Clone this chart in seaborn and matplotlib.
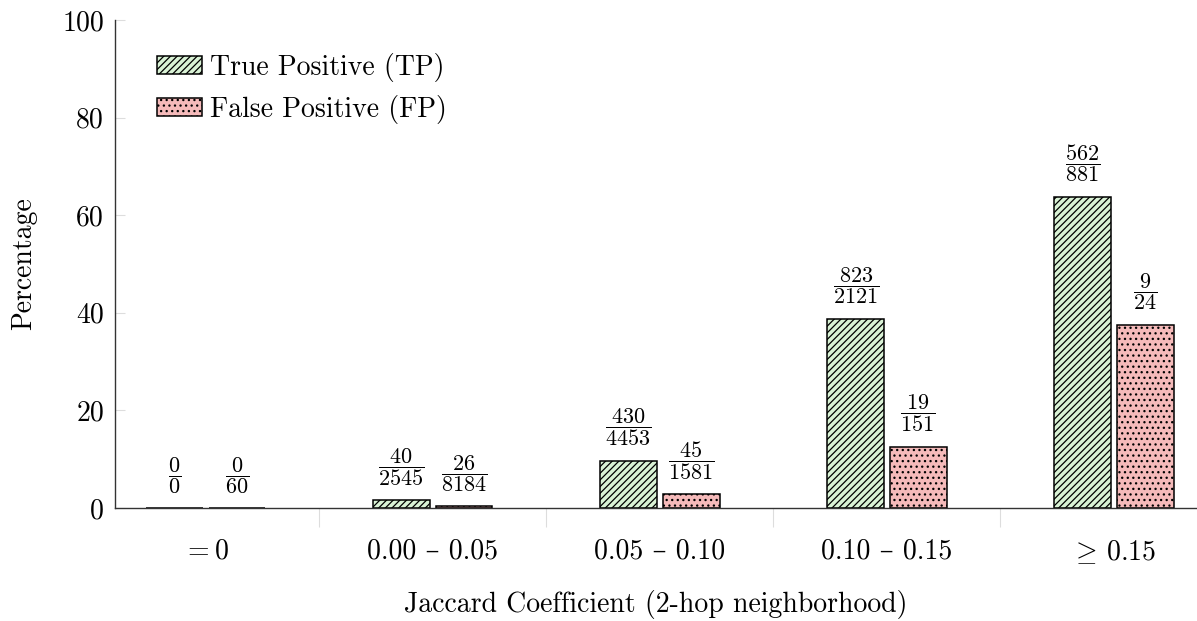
import numpy as np
import pandas as pd
import matplotlib
matplotlib.use("Agg")
import matplotlib.pyplot as plt
import seaborn as sns
from matplotlib.ticker import FixedLocator

# Jaccard coefficient bins (2-hop neighbourhood)
bins = [r"$=0$", "0.00 \u2013 0.05", "0.05 \u2013 0.10", "0.10 \u2013 0.15", r"$\geq\,0.15$"]
series = ["True Positive (TP)", "False Positive (FP)"]

# hits / totals per bin
tp_hits = [0, 40, 430, 823, 562]
tp_total = [0, 2545, 4453, 2121, 881]
fp_hits = [0, 26, 45, 19, 9]
fp_total = [60, 8184, 1581, 151, 24]

y_ticks = [0, 20, 40, 60, 80, 100]


def percent(hits, totals):
    return [100.0 * h / t if t else 0.0 for h, t in zip(hits, totals)]


rows = []
for name, hits, totals in [(series[0], tp_hits, tp_total), (series[1], fp_hits, fp_total)]:
    for b, h, t, p in zip(bins, hits, totals, percent(hits, totals)):
        rows.append({"bin": b, "series": name, "pct": p, "num": h, "den": t})
df = pd.DataFrame(rows)

sns.set_style("white")
plt.rcParams["font.family"] = ["cmr10", "DejaVu Serif"]
plt.rcParams["mathtext.fontset"] = "cm"
plt.rcParams["axes.formatter.use_mathtext"] = True
plt.rcParams["hatch.linewidth"] = 0.9
plt.rcParams["text.color"] = "black"
plt.rcParams["axes.labelcolor"] = "black"

W, H = 1197, 621
fig = plt.figure(figsize=(W / 100, H / 100), dpi=100)
ax = fig.add_axes([115 / W, 113 / H, (W - 115) / W, 488 / H])

sns.barplot(
    data=df, x="bin", y="pct", hue="series",
    order=bins, hue_order=series,
    palette=["#d6f7d0", "#ffb0b0"],
    width=0.55, gap=0.09,
    edgecolor="black", linewidth=1.1,
    legend=False, ax=ax,
)

hatches = ["/////", "..."]
for container, hatch in zip(ax.containers, hatches):
    for bar in container:
        bar.set_hatch(hatch)

# fraction labels above each bar
for container, hits, totals in zip(ax.containers, [tp_hits, fp_hits], [tp_total, fp_total]):
    for bar, h, t in zip(container, hits, totals):
        ax.annotate(
            rf"$\dfrac{{{h}}}{{{t}}}$",
            (bar.get_x() + bar.get_width() / 2, bar.get_height()),
            xytext=(0, 9), textcoords="offset points",
            ha="center", va="bottom", fontsize=16,
        )

ax.set_xlim(-0.4, (W - 206) / 227)
ax.set_ylim(0, 100)
ax.set_yticks(y_ticks)
ax.set_yticklabels([str(v) for v in y_ticks])

for side in ["top", "right"]:
    ax.spines[side].set_visible(False)
for side in ["left", "bottom"]:
    ax.spines[side].set_color("#333333")
    ax.spines[side].set_linewidth(1.0)

ax.tick_params(axis="y", direction="in", length=7, width=0.8, color="#dddddd",
               labelsize=20, labelcolor="black", pad=8, left=True)
ax.tick_params(axis="x", which="major", length=0, labelsize=20, labelcolor="black", pad=22)
ax.xaxis.set_minor_locator(FixedLocator([0.5, 1.5, 2.5, 3.5]))
ax.tick_params(axis="x", which="minor", direction="out", length=14, width=0.8,
               color="#dddddd", bottom=True)

ax.set_xlabel("Jaccard Coefficient (2-hop neighborhood)", fontsize=20, labelpad=17)
ax.set_ylabel("Percentage", fontsize=20, labelpad=18)

ax.legend(
    ax.containers, series, loc="upper left", bbox_to_anchor=(0.029, 0.955),
    frameon=False, fontsize=20, handlelength=1.6, handleheight=0.6,
    handletextpad=0.3, labelspacing=0.45, borderaxespad=0,
)

fig.savefig("out.png", dpi=100)
